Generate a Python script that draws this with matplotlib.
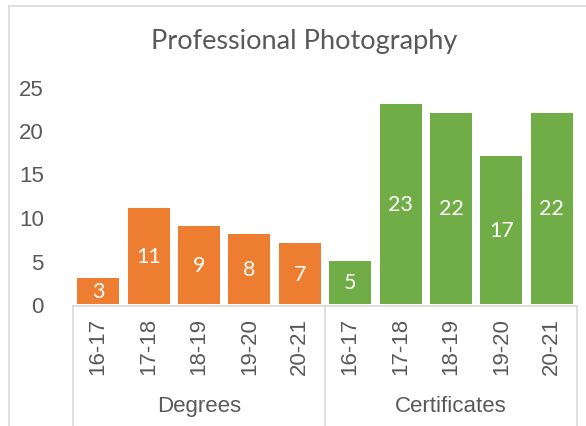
import numpy as np
import matplotlib.pyplot as plt
from matplotlib.lines import Line2D

groups = ['Degrees', 'Certificates']
years = ['16-17', '17-18', '18-19', '19-20', '20-21']
degrees = [3, 11, 9, 8, 7]
certificates = [5, 23, 22, 17, 22]

orange = '#ED7D31'
green = '#70AD47'
grey_txt = '#595959'
line_col = '#D9D9D9'

W, H = 586, 427
fig = plt.figure(figsize=(W / 100, H / 100), dpi=100)
ax = fig.add_axes([73 / W, 1 - 305 / H, (577 - 73) / W, (305 - 87.5) / H])

# chart border (left + top visible)
fig.add_artist(Line2D([9 / W, 9 / W], [0, 1 - 7 / H], color=line_col, lw=1.2))
fig.add_artist(Line2D([9 / W, 1], [1 - 7 / H, 1 - 7 / H], color=line_col, lw=1.2))

n = len(years)
x_deg = np.arange(n)
x_cert = np.arange(n) + n
bw = 0.83
b1 = ax.bar(x_deg, degrees, width=bw, color=orange)
b2 = ax.bar(x_cert, certificates, width=bw, color=green)

for bars, vals in ((b1, degrees), (b2, certificates)):
    for r, v in zip(bars, vals):
        ax.text(r.get_x() + r.get_width() / 2, v / 2, str(v), ha='center', va='center',
                color='white', fontsize=15.5, family='Lato')

ax.set_xlim(-0.5, 2 * n - 0.5)
ax.set_ylim(0, 25)
ax.set_yticks(range(0, 26, 5))
ax.tick_params(axis='y', length=0, pad=21, labelsize=16, labelcolor=grey_txt)
for lab in ax.get_yticklabels():
    lab.set_family('Liberation Sans')
ax.set_xticks([])
for s in ax.spines.values():
    s.set_visible(False)

# multi-level category axis
tr = ax.get_xaxis_transform()
y_line = -1.7 / 217.5
y_bot = -(427 - 305) / 217.5
ax.plot([-0.5, 2 * n - 0.5], [y_line, y_line], color=line_col, lw=1.2, transform=tr, clip_on=False)
for xs in (-0.5, n - 0.5, 2 * n - 0.5):
    ax.plot([xs, xs], [y_line, y_bot], color=line_col, lw=1.2, transform=tr, clip_on=False)

all_x = list(x_deg) + list(x_cert)
for xi, lab in zip(all_x, years + years):
    ax.text(xi, -13 / 217.5, lab, rotation=90, ha='center', va='top', transform=tr,
            fontsize=16, color=grey_txt, family='Liberation Sans')
for gi, g in enumerate(groups):
    ax.text(gi * n + (n - 1) / 2, -(407 - 305) / 217.5, g, ha='center', va='center',
            transform=tr, fontsize=16, color=grey_txt, family='Liberation Sans')

fig.text(304.5 / W, 1 - 42 / H, 'Professional Photography', ha='center', va='center',
         fontsize=19.5, color=grey_txt, family='Lato')

fig.savefig('out.png', dpi=100)
